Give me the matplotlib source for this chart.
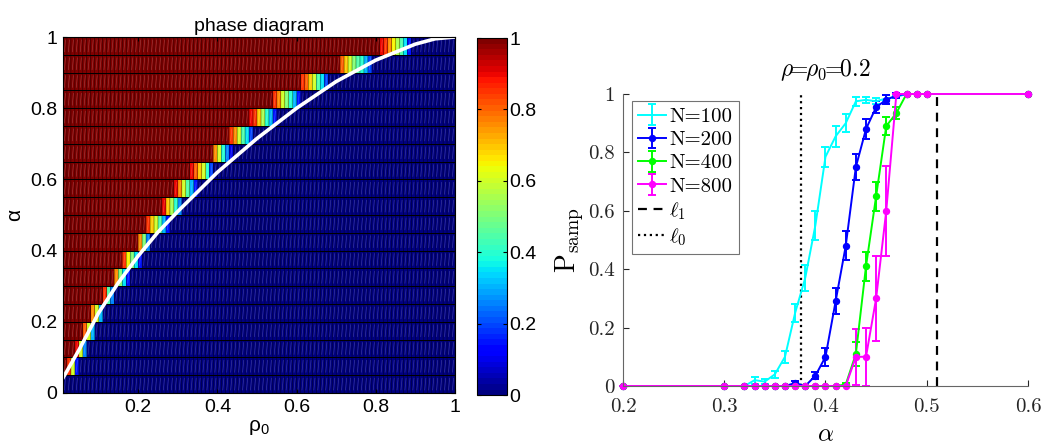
import numpy as np
import matplotlib
matplotlib.use('Agg')
import matplotlib.pyplot as plt
from matplotlib.collections import LineCollection

plt.rcParams['mathtext.fontset'] = 'cm'

# ---------------- left panel data: phase diagram ----------------
rho_edges = np.round(np.arange(0.01, 1.0001, 0.01), 2)     # 99 cells
alpha_edges = np.round(np.arange(0.0, 1.0001, 0.05), 2)    # 20 rows

# for every alpha row: first rho where success drops below 1, then the values of
# the transition cells (everything after them is 0)
row_start = [0.01, 0.02, 0.04, 0.06, 0.08, 0.11, 0.14, 0.16, 0.20, 0.22,
             0.26, 0.29, 0.33, 0.39, 0.43, 0.48, 0.54, 0.61, 0.71, 0.81]
row_trans = [
    [],
    [0.85, 0.6, 0.15],
    [0.9, 0.6, 0.25],
    [0.8, 0.6, 0.3],
    [0.75, 0.6, 0.3],
    [0.85, 0.45, 0.25],
    [0.75, 0.5, 0.35, 0.15],
    [0.85, 0.65, 0.5, 0.35, 0.15],
    [0.75, 0.5, 0.25],
    [0.85, 0.7, 0.6, 0.45, 0.3, 0.15],
    [0.9, 0.7, 0.55, 0.4, 0.25],
    [0.9, 0.75, 0.6, 0.45, 0.3, 0.15],
    [0.9, 0.8, 0.7, 0.6, 0.4, 0.2],
    [0.75, 0.6, 0.4, 0.25, 0.1],
    [0.85, 0.75, 0.6, 0.45, 0.35, 0.2],
    [0.9, 0.85, 0.7, 0.55, 0.4, 0.3, 0.15],
    [0.85, 0.75, 0.6, 0.5, 0.4, 0.3, 0.15],
    [0.85, 0.8, 0.7, 0.6, 0.45, 0.35, 0.2],
    [0.8, 0.7, 0.6, 0.5, 0.45, 0.4, 0.3, 0.2],
    [0.9, 0.85, 0.75, 0.65, 0.55, 0.45, 0.35, 0.15],
]

# white boundary curve
curve_rho = [0.01, 0.05, 0.10, 0.15, 0.20, 0.25, 0.30, 0.40, 0.50, 0.60, 0.70, 0.80, 0.90, 0.95, 1.00]
curve_alpha = [0.042, 0.12, 0.225, 0.31, 0.385, 0.452, 0.51, 0.62, 0.715, 0.80, 0.875, 0.935, 0.98, 0.995, 1.0]

# ---------------- right panel data: rho = rho0 = 0.2 ----------------
a_100 = [0.2, 0.25, 0.3, 0.32, 0.33, 0.34, 0.35, 0.36, 0.37, 0.38, 0.39, 0.40, 0.41, 0.42,
         0.43, 0.44, 0.45, 0.46, 0.47, 0.48, 0.49, 0.50, 0.55, 0.6]
p_100 = [0, 0, 0, 0, 0.02, 0.015, 0.04, 0.10, 0.25, 0.37, 0.55, 0.785, 0.855, 0.90,
         0.975, 0.98, 0.975, 0.985, 0.99, 1, 1, 1, 1, 1]
e_100 = [0, 0, 0, 0, 0.012, 0.008, 0.012, 0.02, 0.03, 0.045, 0.05, 0.035, 0.035, 0.03,
         0.015, 0.01, 0.01, 0.01, 0.005, 0, 0, 0, 0, 0]

a_big = [0.2, 0.3, 0.32, 0.33, 0.34, 0.35, 0.36, 0.37, 0.38, 0.39, 0.40, 0.41, 0.42,
         0.43, 0.44, 0.45, 0.46, 0.47, 0.48, 0.49, 0.50, 0.6]
p_200 = [0, 0, 0, 0, 0, 0, 0, 0.01, 0, 0.035, 0.10, 0.29, 0.48,
         0.75, 0.88, 0.955, 0.98, 0.995, 1, 1, 1, 1]
e_200 = [0, 0, 0, 0, 0, 0, 0, 0.008, 0, 0.012, 0.03, 0.045, 0.05,
         0.045, 0.035, 0.02, 0.015, 0.01, 0, 0, 0, 0]
p_400 = [0, 0, 0, 0, 0, 0, 0, 0, 0, 0, 0, 0, 0.005,
         0.11, 0.41, 0.65, 0.89, 0.935, 1, 1, 1, 1]
e_400 = [0, 0, 0, 0, 0, 0, 0, 0, 0, 0, 0, 0, 0.005,
         0.04, 0.05, 0.05, 0.03, 0.02, 0, 0, 0, 0]
p_800 = [0, 0, 0, 0, 0, 0, 0, 0, 0, 0, 0, 0, 0,
         0.10, 0.10, 0.30, 0.60, 1, 1, 1, 1, 1]
e_800 = [0, 0, 0, 0, 0, 0, 0, 0, 0, 0, 0, 0, 0,
         0.095, 0.10, 0.145, 0.155, 0, 0, 0, 0, 0]

l1_alpha = 0.51
l0_alpha = 0.376

# ---------------- figure ----------------
fig = plt.figure(figsize=(10.44, 4.48), dpi=100)

ax1 = fig.add_axes([0.0603, 0.1228, 0.3755, 0.7946])
cax = fig.add_axes([0.4569, 0.118, 0.0287, 0.797])
ax2 = fig.add_axes([0.5967, 0.1384, 0.388, 0.6518])

# build the grid from the row descriptions
Z = np.zeros((len(alpha_edges) - 1, len(rho_edges) - 1))
for k, (s, tr) in enumerate(zip(row_start, row_trans)):
    i0 = int(round(s / 0.01)) - 1
    Z[k, :i0] = 1.0
    for j, v in enumerate(tr):
        if i0 + j < Z.shape[1]:
            Z[k, i0 + j] = v

sans = 'Liberation Sans'
mesh = ax1.pcolormesh(rho_edges, alpha_edges, Z, cmap=plt.get_cmap('jet', 64),
                      vmin=0, vmax=1, edgecolors='none')

# faint slanted texture inside each cell (rendering look of the original)
x0 = rho_edges[:-1]
w = np.diff(rho_edges)
y0 = alpha_edges[:-1]
h = np.diff(alpha_edges)
X0, Y0 = np.meshgrid(x0, y0)
W, H = np.meshgrid(w, h)
segs = np.stack([np.stack([X0 + 0.35 * W, Y0 + 0.15 * H], -1),
                 np.stack([X0 + 0.65 * W, Y0 + 0.85 * H], -1)], axis=-2).reshape(-1, 2, 2)
ax1.add_collection(LineCollection(segs, colors='white', linewidths=0.5, alpha=0.22))

# cell borders like the matlab pcolor grid
vl = ax1.vlines(rho_edges, 0, 1, colors='k', lw=0.45, alpha=0.55)
vl.set_snap(False)
ax1.hlines(alpha_edges, 0.01, 1, colors='k', lw=0.72)
ax1.plot(curve_rho, curve_alpha, color='white', lw=2.6)
ax1.set_xlim(0.01, 1)
ax1.set_ylim(0, 1)
ax1.set_xticks([0.2, 0.4, 0.6, 0.8, 1.0])
ax1.set_xticklabels(['0.2', '0.4', '0.6', '0.8', '1'])
ax1.set_yticks([0, 0.2, 0.4, 0.6, 0.8, 1.0])
ax1.set_yticklabels(['0', '0.2', '0.4', '0.6', '0.8', '1'])
ax1.tick_params(direction='in', length=3, labelsize=14, top=True, right=True, pad=4)
for lab in ax1.get_xticklabels() + ax1.get_yticklabels():
    lab.set_fontfamily(sans)
ax1.set_title('phase diagram', fontsize=14, family=sans, pad=4)
ax1.set_xlabel(r'$\mathregular{\rho_0}$', fontsize=15, family=sans, labelpad=2)
ax1.set_ylabel(r'$\mathregular{\alpha}$', fontsize=15, family=sans, labelpad=4)

cb = fig.colorbar(mesh, cax=cax)
cb.set_ticks([0, 0.2, 0.4, 0.6, 0.8, 1.0])
cb.set_ticklabels(['0', '0.2', '0.4', '0.6', '0.8', '1'])
cb.ax.tick_params(direction='in', length=3, labelsize=14, left=True, right=True, pad=2)
for lab in cb.ax.get_yticklabels():
    lab.set_fontfamily(sans)
cb.outline.set_linewidth(0.8)

# right panel
serif = 'cmr10'
eb_kw = dict(lw=1.4, elinewidth=1.4, capsize=2.6, capthick=1.4, clip_on=False)
h1 = ax2.errorbar(a_100, p_100, yerr=e_100, color='cyan', label='N=100', **eb_kw)
h2 = ax2.errorbar(a_big, p_200, yerr=e_200, color='blue', marker='o', ms=4.3,
                  label='N=200', **eb_kw)
h3 = ax2.errorbar(a_big, p_400, yerr=e_400, color='lime', marker='o', ms=4.3,
                  label='N=400', **eb_kw)
h4 = ax2.errorbar(a_big, p_800, yerr=e_800, color='magenta', marker='o', ms=4.3,
                  label='N=800', **eb_kw)
for hh in (h1, h2, h3, h4):
    for art in hh.lines[1] + hh.lines[2]:
        art.set_clip_on(False)
h5, = ax2.plot([l1_alpha, l1_alpha], [0, 1], 'k--', lw=1.6, dashes=(4, 3),
               label=r'$\ell_1$')
h6, = ax2.plot([l0_alpha, l0_alpha], [0, 1], 'k:', lw=1.6, label=r'$\ell_0$')

ax2.set_xlim(0.2, 0.6)
ax2.set_ylim(0, 1)
ax2.set_xticks([0.2, 0.3, 0.4, 0.5, 0.6])
ax2.set_xticklabels(['0.2', '0.3', '0.4', '0.5', '0.6'])
ax2.set_yticks([0, 0.2, 0.4, 0.6, 0.8, 1.0])
ax2.set_yticklabels(['0', '0.2', '0.4', '0.6', '0.8', '1'])
ax2.tick_params(direction='in', length=4, labelsize=15, colors='0.15')
ax2.tick_params(axis='x', pad=9)
ax2.tick_params(axis='y', pad=6)
for lab in ax2.get_xticklabels() + ax2.get_yticklabels():
    lab.set_fontfamily(serif)
for side in ('top', 'right'):
    ax2.spines[side].set_visible(False)
for side in ('left', 'bottom'):
    ax2.spines[side].set_color('0.4')
    ax2.spines[side].set_linewidth(0.8)

ax2.set_title(r'$\rho\!\!=\!\!\rho_0\!\!=\!\!0.2$', fontsize=17, pad=13)
ax2.set_xlabel(r'$\alpha$', fontsize=18, labelpad=4)
ax2.set_ylabel(r'$\mathrm{P}_{\mathrm{samp}}$', fontsize=20)
ax2.yaxis.set_label_coords(-0.092, 0.5)

leg = ax2.legend(handles=[h1, h2, h3, h4, h5, h6], loc='upper left',
                 bbox_to_anchor=(0.022, 0.975), fancybox=False, framealpha=1,
                 edgecolor='0.45', handlelength=1.35, handletextpad=0.15,
                 labelspacing=0.22, borderpad=0.3, borderaxespad=0,
                 prop={'family': serif, 'size': 15})
leg.get_frame().set_linewidth(0.8)

fig.savefig('out.png', dpi=100)
